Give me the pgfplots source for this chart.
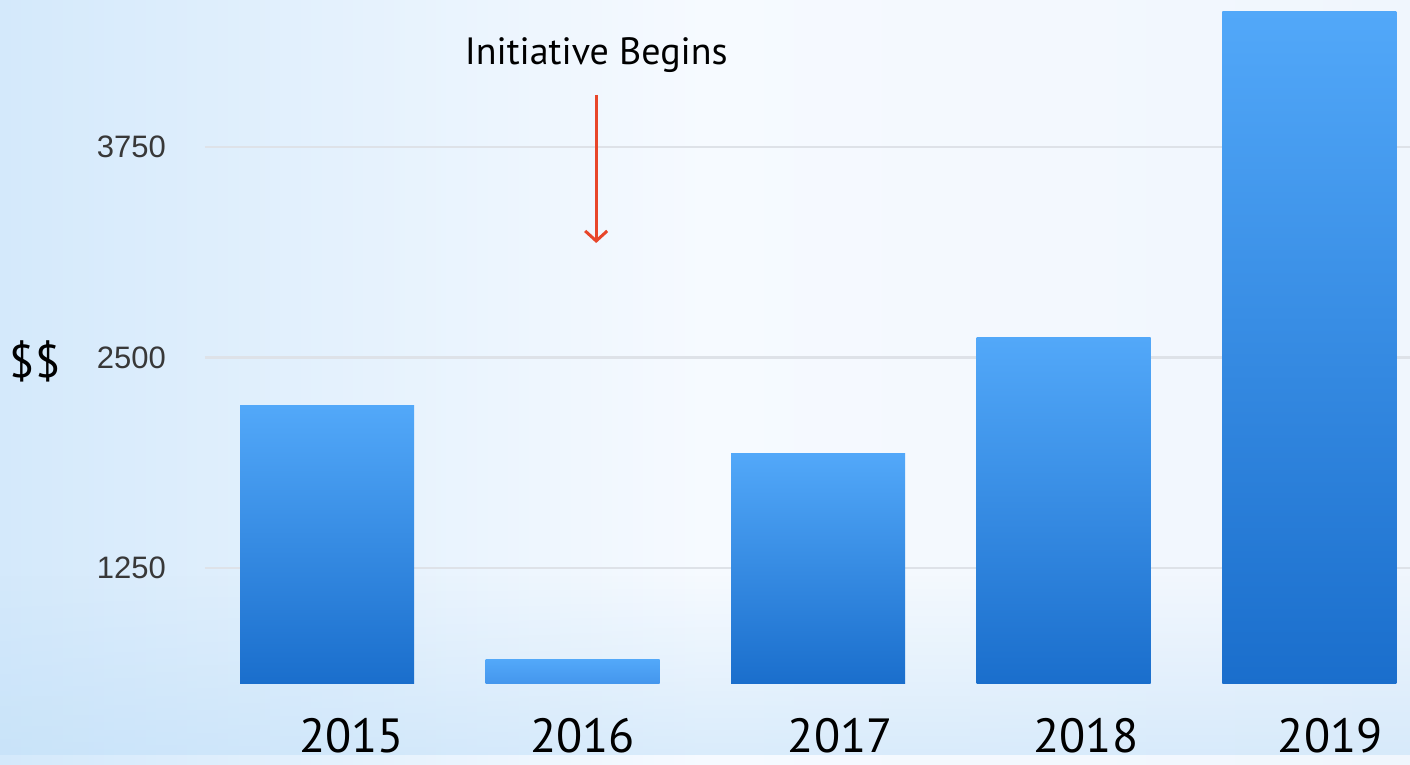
\documentclass[border=0pt]{standalone}
\usepackage{pgfplots}
\pgfplotsset{compat=1.18}
\usepackage{fontspec}
\setmainfont{PT Sans}
\newfontfamily\tickfont{Liberation Sans}
\usetikzlibrary{fadings,arrows.meta}
\definecolor{bgblue}{RGB}{190,222,248}
\definecolor{bartop}{RGB}{82,168,249}
\definecolor{barbot}{RGB}{26,110,204}
\definecolor{arrowred}{RGB}{232,70,42}
\definecolor{gridgray}{RGB}{222,226,232}
\tikzfading[name=band, top color=transparent!100, middle color=transparent!5, bottom color=transparent!50]
\begin{document}
\begin{tikzpicture}[x=1pt,y=1pt]
\useasboundingbox (0,0) rectangle (705,382.5);
% background
\shade[left color={rgb,255:red,212;green,233;blue,251}, right color={rgb,255:red,240;green,246;blue,253}, middle color={rgb,255:red,246;green,250;blue,255}] (0,0) rectangle (705,382.5);
\fill[bgblue, path fading=band] (0,5) rectangle (705,95);
\begin{axis}[
  at={(102.5pt,40.5pt)}, anchor=south west,
  width=602.5pt, height=342pt, scale only axis,
  xmin=-0.497, xmax=4.41, ymin=561, ymax=4623,
  axis line style={draw=none},
  major tick length=0pt,
  ytick={1250,2500,3750},
  yticklabels={1250,2500,3750},
  yticklabel style={font=\tickfont\fontsize{15.5}{17}\selectfont, text=black!78, anchor=east, xshift=-16pt},
  ymajorgrids,
  grid style={gridgray, line width=1.3pt},
  xtick={0.10,1.04,2.09,3.09,4.085},
  xticklabels={2015,2016,2017,2018,2019},
  xticklabel style={font=\fontsize{24}{26}\selectfont, anchor=center, inner sep=0pt, yshift=-26pt},
  clip=false,
]
\addplot[ybar, bar width=87pt, bar shift=0pt, draw=none, top color=bartop, bottom color=barbot]
  coordinates {(0,2212)};
\addplot[ybar, bar width=87pt, bar shift=0pt, draw=none, top color=bartop, bottom color={rgb,255:red,68;green,150;blue,237}]
  coordinates {(1,704)};
\addplot[ybar, bar width=87pt, bar shift=0pt, draw=none, top color=bartop, bottom color=barbot]
  coordinates {(2,1927)};
\addplot[ybar, bar width=87pt, bar shift=0pt, draw=none, top color=bartop, bottom color=barbot]
  coordinates {(3,2616)};
\addplot[ybar, bar width=87pt, bar shift=0pt, draw=none, top color=bartop, bottom color=barbot]
  coordinates {(4,4552)};
\node[font=\fontsize{19}{21}\selectfont, anchor=center] at (axis cs:1.096,4296) {Initiative Begins};
\draw[arrowred, line width=1.5pt, -{Straight Barb[length=5pt,width=11pt]}] (axis cs:1.096,4059) -- (axis cs:1.096,3180);
\end{axis}
\node[font=\fontsize{23}{26}\selectfont, anchor=center] at (17.5,202) {\$\$};
\end{tikzpicture}
\end{document}
